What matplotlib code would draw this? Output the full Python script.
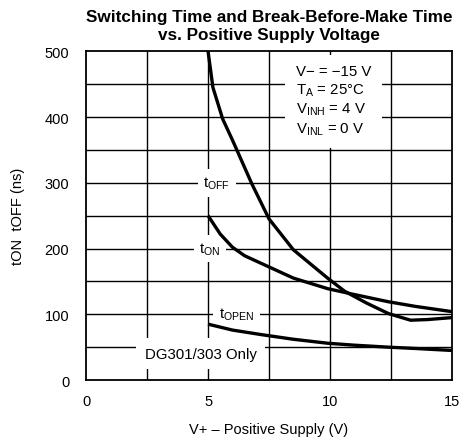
import matplotlib
matplotlib.use('Agg')
import matplotlib.pyplot as plt

plt.rcParams['font.family'] = ['Liberation Sans', 'DejaVu Sans']
plt.rcParams['mathtext.fontset'] = 'custom'
plt.rcParams['mathtext.rm'] = 'Liberation Sans'
plt.rcParams['mathtext.it'] = 'Liberation Sans'

# curves (V+ in volts, time in ns)
toff_v = [5, 5.2, 5.6, 6, 6.8, 7.5, 8.5, 9.9, 10.6, 11.5, 12.4, 13.3, 14, 15]
toff_ns = [500, 445, 397, 365, 298, 245, 198, 155, 135, 117, 101, 91, 92, 95]

ton_v = [5, 5.5, 6, 6.5, 7.5, 8.5, 9.9, 11, 12.4, 13.5, 15]
ton_ns = [250, 222, 202, 189, 172, 155, 139, 130, 119, 112, 104]

topen_v = [5, 6, 7.2, 8.5, 9.9, 11, 12.4, 13.5, 15]
topen_ns = [85, 76, 69, 62, 56, 53, 50, 48, 45]

xticks = [0, 5, 10, 15]
yticks = [0, 100, 200, 300, 400, 500]

fig = plt.figure(figsize=(4.61, 4.39), dpi=100)
ax = fig.add_axes([0.1866, 0.132, 0.794, 0.749])

for x in [2.5, 5, 7.5, 10, 12.5]:
    ax.axvline(x, color='black', lw=1.0, zorder=1)
for y in range(50, 500, 50):
    ax.axhline(y, color='black', lw=1.0, zorder=1)

ax.plot(toff_v, toff_ns, color='black', lw=2.4, solid_capstyle='butt', solid_joinstyle='round', zorder=3)
ax.plot(ton_v, ton_ns, color='black', lw=2.4, solid_capstyle='butt', solid_joinstyle='round', zorder=3)
ax.plot(topen_v, topen_ns, color='black', lw=2.4, solid_capstyle='butt', solid_joinstyle='round', zorder=3)

box = dict(facecolor='white', edgecolor='none', pad=4)
ax.text(4.8, 300, r'$\mathregular{t_{OFF}}$', fontsize=10.8, va='center', ha='left', bbox=box, zorder=2)
ax.text(4.65, 200, r'$\mathregular{t_{ON}}$', fontsize=10.8, va='center', ha='left', bbox=box, zorder=2)
ax.text(5.45, 100, r'$\mathregular{t_{OPEN}}$', fontsize=10.8, va='center', ha='left', bbox=box, zorder=2)
ax.text(2.4, 40, 'DG301/303 Only', fontsize=10.8, va='center', ha='left',
        bbox=dict(facecolor='white', edgecolor='none', pad=6), zorder=2)

cond = ('V\u2212 = \u221215 V\n'
        r'$\mathregular{T_A}$ = 25°C' '\n'
        r'$\mathregular{V_{INH}}$ = 4 V' '\n'
        r'$\mathregular{V_{INL}}$ = 0 V')
ax.text(8.6, 480, cond, fontsize=10.8, va='top', ha='left', linespacing=1.25,
        bbox=dict(facecolor='white', edgecolor='none', pad=8), zorder=2)

ax.set_xlim(0, 15)
ax.set_ylim(0, 500)
ax.set_xticks(xticks)
ax.set_yticks(yticks)
ax.tick_params(length=0, labelsize=10.5)
ax.tick_params(axis='x', pad=10)
ax.tick_params(axis='y', pad=12)
for s in ax.spines.values():
    s.set_linewidth(1.3)

ax.set_xlabel('V+ \u2013 Positive Supply (V)', fontsize=10.5, labelpad=10)
ax.set_ylabel('tON  tOFF (ns)', fontsize=10.5, labelpad=14)
ax.set_title('Switching Time and Break-Before-Make Time\nvs. Positive Supply Voltage',
             fontsize=12.3, fontweight='bold', pad=9, linespacing=1.2)

fig.savefig('out.png', dpi=100)
